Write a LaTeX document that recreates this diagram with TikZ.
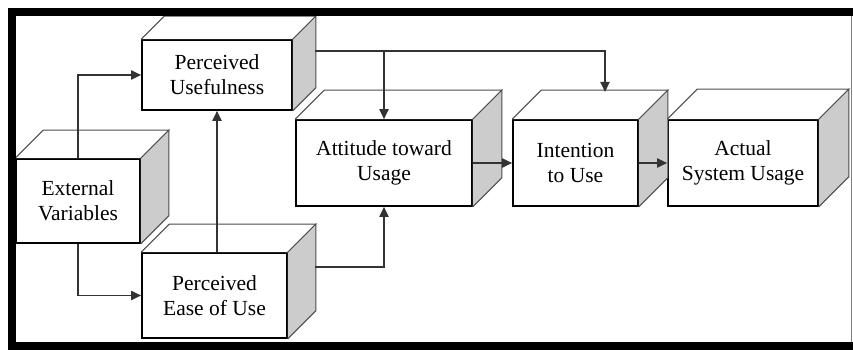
\documentclass[tikz,border=0pt]{standalone}
\usepackage{fontspec}
\setmainfont{Liberation Serif}
\usetikzlibrary{arrows.meta}
\tikzset{
	box/.style={draw=black,line width=1.6pt,fill=white,align=center,inner sep=0pt,font=\fontsize{21.5}{25}\selectfont},
	face/.style={draw=black!70,line width=1pt},
	link/.style={draw=black!80,line width=1.8pt,-{Triangle[length=10pt,width=9pt]}}
}

\begin{document}
\begin{tikzpicture}[x=1pt,y=-1pt]
\useasboundingbox (0,0) rectangle (853,350);
\path (78,201) node[box,minimum width=124pt,minimum height=84pt] (ev) {External\\Variables}
		(217,75) node[box,minimum width=150pt,minimum height=70pt] (pu) {Perceived\\Usefulness}
		(214.5,295.5) node[box,minimum width=145pt,minimum height=85pt] (peou) {Perceived\\Ease of Use}
		(384,163) node[box,minimum width=176pt,minimum height=86pt] (att) {Attitude toward\\Usage}
		(575.5,163) node[box,minimum width=125pt,minimum height=86pt] (int) {Intention\\to Use}
		(743,163) node[box,minimum width=150pt,minimum height=86pt] (asu) {Actual\\System Usage};
\foreach \n/\d in {ev/28,pu/23,peou/28,att/29,int/29,asu/30}{
	\filldraw[face,fill=white] (\n.north west) -- ([shift={(\d,-\d)}]\n.north west)
		-- ([shift={(\d,-\d)}]\n.north east) -- (\n.north east);
	\filldraw[face,fill=black!20] (\n.north east) -- ([shift={(\d,-\d)}]\n.north east)
		-- ([shift={(\d,-\d)}]\n.south east) -- (\n.south east);
}
\coordinate (pu-out) at (315,51);
\coordinate (peou-out) at (315,267);
\coordinate (int-in) at (605,92);
\draw[link] (node cs:name=ev,anchor=north) |- (node cs:name=pu,anchor=west);
\draw[link] (node cs:name=ev,anchor=south) |- (node cs:name=peou,anchor=west);
\draw[link] (pu.south |- peou.north) -- (node cs:name=pu,anchor=south);
\draw[link] (pu-out) -| (node cs:name=att,anchor=north);
\draw[link] (pu-out) -| (int-in);
\draw[link] (peou-out) -| (node cs:name=att,anchor=south);
\draw[link] (node cs:name=att,anchor=east) -- (node cs:name=int,anchor=west);
\draw[link] (node cs:name=int,anchor=east) -- (node cs:name=asu,anchor=west);
\fill (8,8) rectangle (853,16);
\fill (8,8) rectangle (16,350);
\fill (8,342) rectangle (853,350);
\draw[black!50,line width=1pt] (851,16) -- (851,342);
\end{tikzpicture}
\end{document}
